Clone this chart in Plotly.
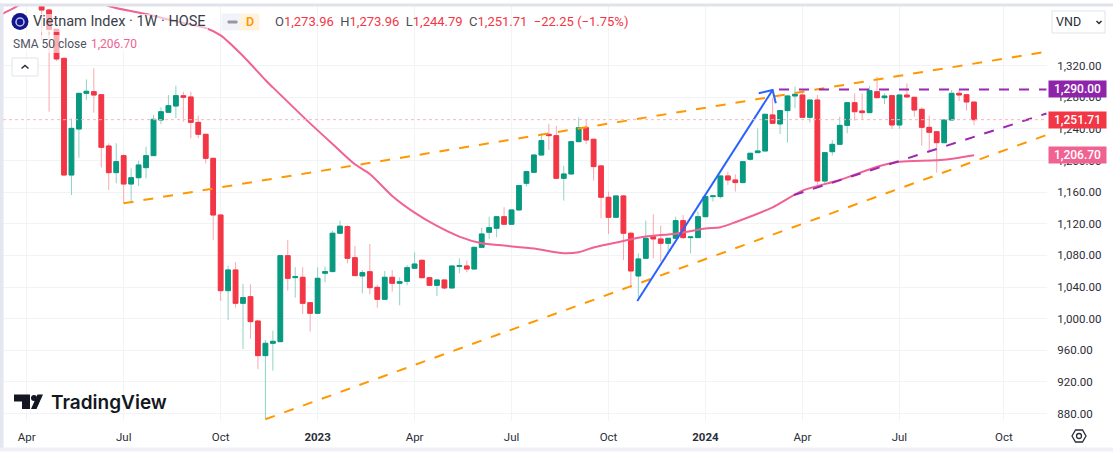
import pandas as pd
import plotly.graph_objects as go

# weekly bars, first bar is the week of 2022-04-18
first_bar = "2022-04-18"
open_vals = [1420,1390.4,1366,1329.3,1181.7,1239.9,1285,1287.1,1283.3,1218.4,1184.7,1206.2,1170.3,1178.3,1191,1206.2,
             1251.3,1261,1269,1282,1280.4,1248.3,1233.2,1202.8,1131.1,1035.4,1061.6,1019.4,1027.8,997,953.2,968.8,
             970.9,1079.7,1051.9,1052.3,1020.2,1006.7,1057.4,1059.5,1108,1116.4,1077.1,1054,1059.4,1039.6,1024.4,1052.3,
             1044.7,1047.2,1063.7,1073.8,1051.8,1042.1,1048.9,1038.8,1066.2,1066.6,1062.8,1090.2,1109.2,1114.3,1129,1119.4,
             1137.5,1171.2,1185.1,1207,1233.2,1231.5,1177.5,1183,1223.9,1241.6,1226.9,1193.2,1153.5,1128.2,1155.2,1108,
             1054,1076.3,1103.7,1100.8,1095.3,1101.6,1124,1102.5,1102.5,1129,1154.4,1154.4,1180.5,1175.4,1172.1,1201.6,
             1210,1212.1,1257.7,1246.3,1263.2,1281.7,1282.9,1254.7,1276.6,1174.1,1211.2,1220.5,1244.5,1273.2,1262.7,1260.6,
             1287.1,1279.5,1282.1,1245,1282.9,1280,1264.8,1242,1236.5,1222.6,1251.3,1285,1283.3,1273.96]
close_vals = [1390.4,1366,1328.5,1181.7,1240.7,1285,1287.6,1282.9,1216.7,1184.7,1198.6,1170.3,1178.3,1194.4,1206.2,1252.1,
              1261.8,1269.4,1282.1,1280,1248.3,1233.2,1202.8,1131.1,1035.4,1061.6,1019.4,1026.6,996.2,953.2,968.8,971.3,
              1079.7,1051,1053.1,1019.4,1006.7,1051,1059.5,1108,1117,1076.3,1054.4,1058.2,1039.2,1024.4,1052.3,1044.7,
              1046.8,1064.5,1069.1,1051.8,1042.1,1048.9,1038.8,1066.6,1067,1062.8,1090.2,1107.1,1115.1,1129,1119.4,1137.5,
              1168.3,1186,1207,1225.2,1231.5,1177.5,1183,1223.9,1241.6,1226,1192.3,1153.5,1128.2,1155.2,1108,1060.3,
              1075.5,1101.6,1100.8,1095.3,1101.6,1124,1102.5,1103.3,1129,1154.4,1155.2,1180.5,1175.4,1172.1,1198.6,1209.2,
              1212.1,1258.5,1247.1,1263.2,1281.7,1283.8,1254.7,1276.6,1174.1,1210,1220.5,1244.5,1273.2,1261.8,1260.6,1288.4,
              1279.5,1281.6,1245,1282.9,1280.4,1263.9,1242,1235.7,1222.6,1251.3,1285,1282.9,1274.1,1251.71]
high_vals = [1440,1392,1366.5,1329.8,1253.4,1285.5,1302.7,1316.6,1283.8,1221.8,1221.8,1208.3,1190.1,1200,1217.6,1257.6,
             1267.3,1283,1294.7,1287,1287.1,1256.8,1233.6,1203.2,1131.5,1067,1071.3,1043.9,1043.4,998,973,984.8,
             1079.9,1099.5,1065,1065,1020.5,1065,1065.8,1110.9,1123.9,1118,1091.9,1061.5,1094.4,1042.6,1060.3,1061.5,
             1052.3,1067.9,1083.9,1075,1052.5,1049.5,1049,1067,1076.3,1073.4,1091,1115.1,1129,1129.5,1140.9,1138,
             1168.8,1186.8,1207.5,1234.5,1246.3,1243.8,1193.2,1224,1254.7,1251.3,1227,1194,1160.7,1156,1156.5,1110,
             1082.7,1124,1132,1117.7,1102,1129,1131.2,1104,1135.4,1157.7,1155.5,1181,1186,1182.6,1198.9,1209.5,
             1240.8,1259,1278.8,1263.5,1282,1293.5,1288.5,1276.9,1282.9,1210.3,1226,1255.5,1273.5,1285,1285,1294.3,
             1306.1,1285,1282.5,1283.2,1297.7,1280.4,1267.3,1256.8,1236.8,1251.6,1289.2,1289.2,1283.6,1273.96]
low_vals = [1352.5,1261.8,1326,1180.4,1156.4,1203.6,1276.6,1260.6,1191.4,1162.7,1171.2,1145.9,1145.9,1167.8,1177.5,1206,
            1245.8,1261,1253.4,1249.2,1228.1,1228.1,1196.5,1099.5,1022.4,998.3,1013.9,961.6,974.3,935.9,872.7,934.2,
            970,1035.4,1026.6,1005.9,983.6,1006.5,1046,1059.3,1108,1070,1054,1032,1030.8,1013.9,1024,1034.1,
            1016.8,1042.1,1063,1051,1041,1028.6,1037.1,1038.5,1057.3,1058.6,1062,1090,1100.4,1102.9,1119,1119,
            1137,1167,1185,1207,1213.4,1177,1149.3,1182,1223,1220.6,1174.6,1126.9,1107.1,1127,1074.2,1038.4,
            1025.7,1076,1076.3,1072.1,1082.7,1101,1101,1082.7,1102,1128,1148,1152,1169.1,1160.7,1171,1199.9,
            1210,1211.8,1247,1233.6,1222.7,1266.1,1254.4,1248,1167,1170.3,1206.2,1220.2,1234.4,1250.4,1251.3,1260.3,
            1279.2,1271.5,1239.9,1239.9,1280.2,1255.5,1218.8,1210.4,1184.7,1221.8,1251,1275.3,1263.1,1244.79]

# SMA 50, read at these week numbers counted from 2022-04-04
sma_base = "2022-04-04"
sma_weeks = [-4,-3,-1,3,7,11,16,20,24,26,29,32,33,38,41,44,46,49,52,55,58,61,64,68,72,74,76,80,83,87,91,93,95,100,104,109,114,117,122,125,127]
sma_vals = [1381.8,1386.8,1396.8,1425,1415,1395.5,1385.4,1376.1,1367.7,1358.4,1332.3,1301.9,1292.6,1247,1220.9,1195.2,1183,1155.2,1134.1,1117.2,
            1103.8,1095.3,1092.4,1088.6,1082.7,1084,1090,1098.3,1103.8,1107.5,1114,1115.6,1122,1140.8,1161.9,1175.4,1192.2,1198.6,1200.3,1203.6,1206.7]

# drawn trend lines
orange_up_x = ["2022-07-04", "2024-11-16"]
orange_up_y = [1145.9, 1337.7]
orange_low_x = ["2022-11-14", "2024-11-16"]
orange_low_y = [872.7, 1232.3]
purple_flat_x = ["2024-03-10", "2024-11-16"]
purple_flat_y = [1290, 1290]
purple_rise_x = ["2024-03-24", "2024-11-16"]
purple_rise_y = [1156.4, 1259.5]
blue_x = ["2023-10-29", "2024-03-04", None, "2024-02-20", "2024-03-04", "2024-03-07"]
blue_y = [1022.3, 1289.3, None, 1285.1, 1289.3, 1272.4]

y_ticks = [880, 920, 960, 1000, 1040, 1080, 1120, 1160, 1200, 1240, 1280, 1320]
x_ticks = ["2022-04-04", "2022-07-04", "2022-10-03", "2023-01-02", "2023-04-03", "2023-07-03", "2023-10-02", "2024-01-01", "2024-04-01", "2024-07-01", "2024-10-07"]
x_labels = ["Apr", "Jul", "Oct", "<b>2023</b>", "Apr", "Jul", "Oct", "<b>2024</b>", "Apr", "Jul", "Oct"]

UP = "#089981"
DOWN = "#f23645"
PINK = "#f06292"
PURPLE = "#9c27b0"
ORANGE = "#ff9800"
BLUE = "#2962ff"
TEXT = "#2a2e39"
FONT = "Roboto"

W, H = 1113, 455
LEFT, RIGHT, TOP, BOTTOM = 3, 1047, 6, 421

df = pd.DataFrame({"open": open_vals, "high": high_vals, "low": low_vals, "close": close_vals})
df["date"] = pd.date_range(first_bar, periods=len(df), freq="7D")
body_top = df[["open", "close"]].max(axis=1)
body_low = df[["open", "close"]].min(axis=1)
sma_dates = pd.Timestamp(sma_base) + pd.to_timedelta([w * 7 for w in sma_weeks], unit="D")


def px_x(x):
    return (x - LEFT) / (RIGHT - LEFT)


def px_y(y):
    return (BOTTOM - y) / (BOTTOM - TOP)


def box(x0, y0, x1, y1, fill, line=None, opacity=1):
    return dict(type="rect", xref="paper", yref="paper", x0=px_x(x0), x1=px_x(x1), y0=px_y(y0), y1=px_y(y1),
                fillcolor=fill, line=dict(color=line or "rgba(0,0,0,0)", width=1), opacity=opacity)


def path(points, fill="rgba(0,0,0,0)", line=None, width=1.5, closed=True):
    # points given in page pixels
    d = "M " + " L ".join(f"{px_x(x):.5f},{px_y(y):.5f}" for x, y in points)
    if closed:
        d += " Z"
    return dict(type="path", xref="paper", yref="paper", path=d, fillcolor=fill,
                line=dict(color=line or "rgba(0,0,0,0)", width=width))


def label(x, y, text, size=12, color=TEXT, anchor="left", **kw):
    return dict(xref="paper", yref="paper", x=px_x(x), y=px_y(y), text=text, showarrow=False, xanchor=anchor,
                yanchor="middle", font=dict(family=kw.pop("family", FONT), size=size, color=color, weight=kw.pop("weight", "normal")),
                borderpad=0, **kw)


def price_tag(value, color):
    return dict(xref="paper", yref="y", x=px_x(1048), y=value, text=f"{value:,.2f}", showarrow=False, xanchor="left",
                yanchor="middle", width=57, height=16, bgcolor=color, borderpad=0, align="center",
                font=dict(family=FONT, size=12, color="white", weight=500))


fig = go.Figure()

# wicks are paler than the bodies, so the bars go on in two layers
fig.add_trace(go.Candlestick(x=df["date"], open=df["open"], high=df["high"], low=df["low"], close=df["close"],
                             increasing=dict(line=dict(color="#8fd3c4", width=1), fillcolor="#8fd3c4"),
                             decreasing=dict(line=dict(color="#f9a8ae", width=1), fillcolor="#f9a8ae"),
                             hoverinfo="skip"))
fig.add_trace(go.Candlestick(x=df["date"], open=df["open"], high=body_top, low=body_low, close=df["close"],
                             increasing=dict(line=dict(color=UP, width=1), fillcolor=UP),
                             decreasing=dict(line=dict(color=DOWN, width=1), fillcolor=DOWN),
                             hoverinfo="skip"))

fig.add_trace(go.Scatter(x=sma_dates, y=sma_vals, mode="lines", line=dict(color=PINK, width=2, shape="spline", smoothing=0.7),
                         hoverinfo="skip"))

for xs, ys, color, dash in [(orange_up_x, orange_up_y, ORANGE, "10px,10px"),
                            (orange_low_x, orange_low_y, ORANGE, "10px,10px"),
                            (purple_flat_x, purple_flat_y, PURPLE, "10px,10px"),
                            (purple_rise_x, purple_rise_y, PURPLE, "10px,10px"),
                            (blue_x, blue_y, BLUE, "solid")]:
    fig.add_trace(go.Scatter(x=xs, y=ys, mode="lines", line=dict(color=color, width=2, dash=dash), hoverinfo="skip"))

shapes = [
    # last price line
    dict(type="line", xref="paper", yref="y", x0=0, x1=1, y0=close_vals[-1], y1=close_vals[-1],
         line=dict(color="#f9b6bb", width=1, dash="dot")),
    # frame of the screenshot
    box(0, 4, W, 6, "#e0e3eb", "#e0e3eb"),
    box(0, 4, 3, 448, "#e4e6f0", "#e4e6f0"),
    box(0, 448, W, 451, "#eff1f7", "#eff1f7"),
    # legend backdrop
    box(30, 14, 208, 32, "white", opacity=0.6),
    box(10, 35, 140, 53, "white", opacity=0.6),
    # D pill
    box(222, 14, 240, 30, "#f0f3fa", "#f0f3fa"),
    box(240, 14, 259, 30, "#fff3e0", "#fff3e0"),
    box(228, 21, 237, 23, "#9598a1", "#9598a1"),
    # collapse button
    box(12, 58, 38, 76, "white", "#e0e3eb"),
    path([(21.5, 68.5), (25, 65.5), (28.5, 68.5)], line=TEXT, width=1.5, closed=False),
    # currency box
    box(1052, 11, 1105, 33, "white", "#e0e3eb"),
    path([(1096.5, 21), (1099, 23.5), (1101.5, 21)], line=TEXT, width=1.5, closed=False),
    # settings icon
    path([(1072, 436), (1075.5, 430), (1082.5, 430), (1086, 436), (1082.5, 442), (1075.5, 442)], line=TEXT, width=1.3),
    dict(type="circle", xref="paper", yref="paper", x0=px_x(1076.5), x1=px_x(1081.5), y0=px_y(438.5), y1=px_y(433.5),
         line=dict(color=TEXT, width=1.3)),
    # symbol icon
    dict(type="circle", xref="paper", yref="paper", x0=px_x(11.5), x1=px_x(28.5), y0=px_y(30), y1=px_y(13),
         fillcolor="#14148c", line=dict(color="#14148c", width=0)),
    dict(type="circle", xref="paper", yref="paper", x0=px_x(16), x1=px_x(24), y0=px_y(26), y1=px_y(18),
         fillcolor="rgba(0,0,0,0)", line=dict(color="#b8c4ee", width=1.5)),
    # TradingView mark
    path([(14, 394.5), (30, 394.5), (30, 409), (22, 409), (22, 401.5), (14, 401.5)], fill="#131722"),
    dict(type="circle", xref="paper", yref="paper", x0=px_x(31), x1=px_x(37), y0=px_y(401), y1=px_y(395),
         fillcolor="#131722", line=dict(width=0, color="#131722")),
    path([(43, 394.5), (37.5, 394.5), (31, 409), (36.5, 409)], fill="#131722"),
]

annotations = [
    label(32, 22, "Vietnam Index · 1W · HOSE", size=14.5, color="#3a3e49"),
    label(240 + 9.5, 22, "D", size=12.5, color=ORANGE, anchor="center", weight=600),
    label(274, 22, "O<span style='color:#f23645'>1,273.96</span>  H<span style='color:#f23645'>1,273.96</span>  "
                   "L<span style='color:#f23645'>1,244.79</span>  C<span style='color:#f23645'>1,251.71</span>  "
                   "<span style='color:#f23645'>−22.25 (−1.75%)</span>", size=13, color="#4a4e59"),
    label(12, 44.5, "SMA 50 close", size=12, color="#50535e"),
    label(90, 44.5, "1,206.70", size=12, color=PINK),
    label(1055, 22, "VND", size=12.5, color=TEXT),
    label(49.5, 402, "TradingView", size=19, color="#131722", family="Inter", weight=600),
    price_tag(purple_flat_y[0], "#8e24aa"),
    price_tag(close_vals[-1], DOWN),
    price_tag(sma_vals[-1], PINK),
]

fig.update_layout(
    width=W, height=H, margin=dict(l=LEFT, r=W - RIGHT, t=TOP, b=H - BOTTOM),
    paper_bgcolor="white", plot_bgcolor="white", showlegend=False, boxgap=0.1,
    font=dict(family=FONT, size=11.5, color=TEXT), shapes=shapes, annotations=annotations,
    xaxis=dict(type="date", range=["2022-03-12 18:00", "2024-11-16 12:00"], rangeslider=dict(visible=False),
               tickmode="array", tickvals=x_ticks, ticktext=x_labels, showgrid=True, gridcolor="#f2f3f7", gridwidth=1,
               ticks="outside", ticklen=5, tickcolor="white", showline=False, zeroline=False),
    yaxis=dict(side="right", range=[870.5, 1395.5], tickmode="array", tickvals=y_ticks, tickformat=",.2f",
               showgrid=True, gridcolor="#f2f3f7", gridwidth=1, ticks="outside", ticklen=7, tickcolor="white",
               showline=False, zeroline=False),
)

fig.write_html("out.html", config={"displayModeBar": False},
               post_script="document.body.style.margin='0';document.body.style.overflow='hidden';")
